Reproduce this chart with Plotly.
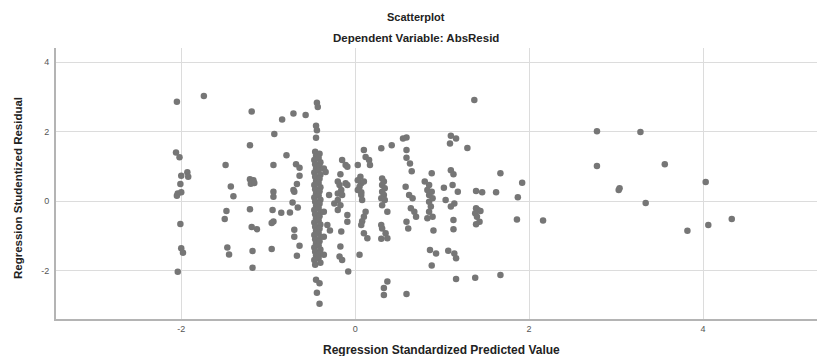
import plotly.graph_objects as go

# ---- data ----
predicted = [
    # left group around -2 .. -1.1
    -2.05, -1.74, -1.19, -1.21, -2.06, -2.02, -1.49, -2.00, -1.93, -1.92, -2.01, -2.04, -2.00, -2.05,
    -1.43, -1.40, -1.21, -1.19, -1.17, -1.20, -1.16, -1.21, -1.48, -1.50, -2.01, -1.19, -1.13,
    -2.00, -1.98, -1.47, -1.45, -1.18, -1.18, -2.04,
    # -1 .. -0.6
    -0.84, -0.71, -0.57, -0.93, -0.79, -0.94, -0.68, -0.64, -0.64, -0.67, -0.71, -0.70, -0.94, -0.94,
    -0.95, -0.85, -0.72, -0.66, -0.75, -0.94, -0.96, -0.70, -0.70, -0.64, -0.67, -0.96,
    # dense column near -0.45
    -0.44, -0.43, -0.45, -0.44, -0.45,
    -0.46, -0.45, -0.47, -0.46, -0.45, -0.47, -0.46, -0.45, -0.47, -0.46, -0.45, -0.47, -0.46, -0.45,
    -0.47, -0.46, -0.45, -0.47, -0.46, -0.45, -0.47, -0.46, -0.45, -0.47, -0.46, -0.45, -0.47, -0.46,
    -0.41, -0.42, -0.40, -0.41, -0.42, -0.40, -0.41, -0.42, -0.40, -0.41, -0.42, -0.40, -0.41, -0.42,
    -0.40, -0.41, -0.42, -0.40, -0.41, -0.42, -0.40, -0.41, -0.42, -0.40, -0.41, -0.42, -0.40,
    -0.36, -0.34, -0.30, -0.36, -0.32, -0.36, -0.36, -0.24, -0.29,
    -0.45, -0.41, -0.44, -0.41,
    # -0.2 .. -0.07
    -0.15, -0.11, -0.09, -0.17, -0.20, -0.18, -0.11, -0.09, -0.16, -0.20, -0.15, -0.20, -0.17, -0.20,
    -0.09, -0.09, -0.16, -0.17, -0.18, -0.15, -0.08,
    # 0 .. 0.17
    0.10, 0.12, 0.16, 0.17, 0.03, 0.06, 0.03, 0.07, 0.10, 0.05, 0.03, 0.07, 0.07, 0.08,
    0.12, 0.10, 0.08, 0.07, 0.10, 0.14, 0.05,
    # 0.3 .. 0.42
    0.30, 0.42, 0.31, 0.33, 0.31, 0.34, 0.31, 0.33, 0.30, 0.34, 0.31, 0.37, 0.30, 0.31,
    0.35, 0.37, 0.30, 0.37, 0.33, 0.33,
    # 0.54 .. 0.70
    0.59, 0.59, 0.59, 0.63, 0.65, 0.58, 0.62, 0.66, 0.64, 0.68, 0.70, 0.59, 0.61, 0.59, 0.55,
    # 0.8 .. 0.93
    0.88, 0.80, 0.85, 0.83, 0.88, 0.85, 0.89, 0.85, 0.87, 0.85, 0.89, 0.83, 0.90, 0.86, 0.93, 0.88,
    1.02,
    # 1.04 .. 1.2
    1.10, 1.16, 1.09, 1.29, 1.10, 1.13, 1.12, 1.18, 1.04, 1.14, 1.10, 1.13, 1.13, 1.07, 1.14, 1.16, 1.16,
    1.37,
    # 1.4 cluster
    1.39, 1.46, 1.39, 1.41, 1.44, 1.38, 1.40, 1.43, 1.39,
    # 1.6 .. 2.2
    1.67, 1.92, 1.62, 1.87, 1.86, 2.16, 1.38, 1.67,
    # far right
    2.78, 3.28, 2.78, 3.56, 3.03, 3.04, 3.34, 4.03, 3.82, 4.06, 4.33,
]

residual = [
    2.86, 3.03, 2.58, 1.61, 1.40, 1.26, 1.04, 0.73, 0.83, 0.70, 0.49, 0.22, 0.25, 0.15,
    0.42, 0.14, 0.63, 0.55, 0.60, 0.50, 0.52, -0.24, -0.29, -0.52, -0.66, -0.75, -0.81,
    -1.36, -1.49, -1.34, -1.54, -1.44, -1.92, -2.04,
    2.35, 2.52, 2.48, 1.93, 1.32, 1.04, 1.06, 0.96, 0.73, 0.49, 0.32, 0.27, 0.27, 0.12,
    -0.26, -0.34, -0.04, -0.19, -0.33, -0.59, -0.63, -0.83, -1.03, -1.29, -1.58, -1.38,
    2.83, 2.71, 2.17, 2.04, 1.82,
    1.42, 1.30, 1.18, 1.06, 0.94, 0.82, 0.70, 0.58, 0.46, 0.34, 0.22, 0.10, -0.02, -0.14,
    -0.26, -0.38, -0.50, -0.62, -0.74, -0.86, -0.98, -1.10, -1.22, -1.34, -1.46, -1.58, -1.70, -1.84,
    1.36, 1.24, 1.12, 1.00, 0.88, 0.76, 0.64, 0.52, 0.40, 0.28, 0.16, 0.04, -0.08, -0.20,
    -0.32, -0.44, -0.56, -0.68, -0.80, -0.92, -1.04, -1.16, -1.28, -1.40, -1.52, -1.64, -1.78,
    0.94, 0.84, 0.17, -0.31, -0.69, -1.03, -1.55, -0.07, -0.85,
    -2.27, -2.37, -2.64, -2.96,
    1.18, 1.04, 0.99, 0.77, 0.56, 0.46, 0.51, 0.46, 0.32, 0.22, 0.17, 0.03, -0.12, -0.26,
    -0.40, -0.60, -0.88, -1.31, -1.60, -1.70, -2.03,
    1.47, 1.27, 1.18, 1.04, 1.04, 0.70, 0.60, 0.51, 0.56, 0.41, 0.32, 0.25, 0.17, 0.03,
    -0.31, -0.45, -0.58, -0.69, -0.93, -1.07, -1.55,
    1.52, 1.61, 0.65, 0.56, 0.46, 0.37, 0.27, 0.17, 0.08, 0.03, -0.12, -0.31, -0.69, -0.79,
    -0.93, -1.07, -1.09, -2.32, -2.51, -2.71,
    1.83, 1.47, 1.25, 1.08, 0.86, 0.41, 0.17, 0.08, -0.21, -0.31, -0.45, -0.60, -0.79, -2.68, 1.80,
    0.80, 0.56, 0.46, 0.32, 0.27, 0.17, 0.08, -0.02, -0.16, -0.31, -0.45, -0.50, -0.85, -1.41, -1.51, -1.86,
    0.38,
    1.88, 1.80, 1.66, 1.53, 0.89, 0.77, 0.46, 0.27, 0.03, -0.07, -0.16, -0.55, -0.81, -1.43, -1.51, -1.65, -2.25,
    2.91,
    0.29, 0.25, -0.21, -0.26, -0.29, -0.35, -0.45, -0.60, -0.67,
    0.80, 0.53, 0.25, 0.11, -0.53, -0.56, -2.21, -2.13,
    2.01, 1.99, 1.01, 1.06, 0.32, 0.37, -0.06, 0.55, -0.86, -0.69, -0.52,
]

x_ticks = [-2, 0, 2, 4]
x_tick_labels = ["-2", "0", "2", "4"]
y_ticks = [-2, 0, 2, 4]
y_tick_labels = ["-2", "0", "2", "4"]

FONT = "Liberation Sans, Arial, sans-serif"

fig = go.Figure()
fig.add_trace(go.Scatter(
    x=predicted, y=residual, mode="markers",
    marker=dict(color="#767676", size=6.5, line=dict(width=0)),
    hoverinfo="x+y", showlegend=False,
))

fig.update_layout(
    width=817, height=356,
    margin=dict(l=56, r=0, t=48, b=37),
    paper_bgcolor="white", plot_bgcolor="white",
    font=dict(family=FONT, color="#333333"),
    xaxis=dict(
        range=[-3.44, 5.31], tickvals=x_ticks, ticktext=x_tick_labels,
        showgrid=True, gridcolor="#dcdcdc", gridwidth=1, zeroline=False,
        showline=True, linecolor="#b4b4b4", linewidth=2,
        ticks="", tickfont=dict(size=9, color="#555555", family=FONT),
    ),
    yaxis=dict(
        range=[-3.40, 4.41], tickvals=y_ticks, ticktext=y_tick_labels,
        showgrid=True, gridcolor="#dcdcdc", gridwidth=1, zeroline=False,
        showline=True, linecolor="#b4b4b4", linewidth=2,
        ticks="outside", ticklen=3, tickcolor="rgba(0,0,0,0)",
        tickfont=dict(size=9, color="#555555", family=FONT),
    ),
    annotations=[
        dict(text="<b>Scatterplot</b>", xref="paper", yref="paper", x=0.473, y=1.114,
             xanchor="center", yanchor="middle", showarrow=False,
             font=dict(size=11, color="#222222", family=FONT)),
        dict(text="<b>Dependent Variable: AbsResid</b>", xref="paper", yref="paper", x=0.473, y=1.037,
             xanchor="center", yanchor="middle", showarrow=False,
             font=dict(size=11.5, color="#222222", family=FONT)),
        dict(text="<b>Regression Standardized Predicted Value</b>", xref="paper", yref="paper",
             x=0.506, y=-0.114, xanchor="center", yanchor="middle", showarrow=False,
             font=dict(size=12, color="#222222", family=FONT)),
        dict(text="<b>Regression Studentized Residual</b>", xref="paper", yref="paper",
             x=-0.05, y=0.483, xanchor="center", yanchor="middle", showarrow=False, textangle=-90,
             font=dict(size=11.5, color="#222222", family=FONT)),
    ],
)

# remove the browser's default 8px page margin so the figure fills the window exactly
fig.write_html(
    "out.html",
    config={"displayModeBar": False},
    post_script="document.body.style.margin='0';document.body.style.overflow='hidden';",
)
